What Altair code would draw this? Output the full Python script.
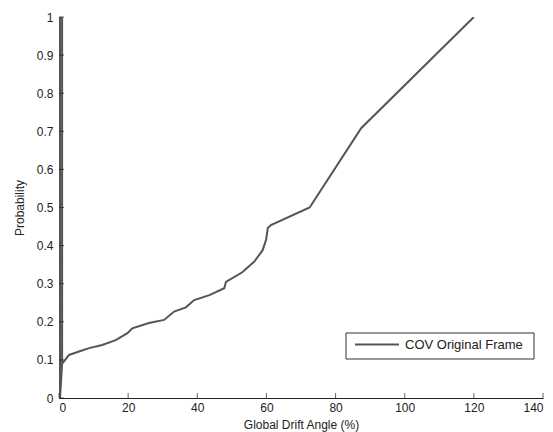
import altair as alt
import pandas as pd

# Data
drift = [0.9, 0.9, 0.3, 0.3, 0.9, 1.5, 2.9, 5.8, 8.7, 12.5, 16.4, 19.8, 21.2, 26.0,
         30.4, 33.3, 36.7, 39.1, 43.5, 47.8, 48.3, 53.0, 56.5, 58.9, 59.9, 60.4,
         61.3, 72.5, 87.4, 120.0]
prob = [0.09, 1.0, 1.0, 0.0, 0.09, 0.097, 0.113, 0.122, 0.131, 0.139, 0.152, 0.17,
        0.183, 0.197, 0.205, 0.227, 0.238, 0.257, 0.27, 0.288, 0.305, 0.33, 0.358,
        0.388, 0.415, 0.446, 0.454, 0.50, 0.708, 1.0]
series_name = "COV Original Frame"
x_ticks = [0, 20, 40, 60, 80, 100, 120, 140]
y_ticks = [0, 0.1, 0.2, 0.3, 0.4, 0.5, 0.6, 0.7, 0.8, 0.9, 1.0]

W, H = 484, 381
FONT = "Liberation Sans"
LINE_COLOR = "#555555"
TEXT_COLOR = "#222222"

df = pd.DataFrame({"drift": drift, "prob": prob, "i": list(range(len(drift)))})
xt = pd.DataFrame({"drift": x_ticks})
yt = pd.DataFrame({"prob": y_ticks})
leg = pd.DataFrame({"series": [series_name]})

xscale = alt.Scale(domain=[0, 140], nice=False, zero=False)
yscale = alt.Scale(domain=[0, 1], nice=False, zero=False)

x_axis = alt.Axis(values=x_ticks, title="Global Drift Angle (%)",
                  labelPadding=4, titlePadding=6, format="d",
                  labelOverlap=False, titleFontWeight="normal", grid=False)
y_axis = alt.Axis(values=y_ticks, title="Probability",
                  labelPadding=6, titlePadding=10, format=".1~f",
                  labelOverlap=False, titleFontWeight="normal", grid=False)

line = alt.Chart(df).mark_line(strokeWidth=2, clip=True, color=LINE_COLOR).encode(
    x=alt.X("drift:Q", scale=xscale, axis=x_axis),
    y=alt.Y("prob:Q", scale=yscale, axis=y_axis),
    order="i:Q",
)

xtick_layer = alt.Chart(xt).mark_tick(orient="vertical", size=5, thickness=1,
                                      color=TEXT_COLOR).encode(
    x=alt.X("drift:Q", scale=xscale, axis=x_axis),
    y=alt.value(H - 2.5),
)
ytick_layer = alt.Chart(yt).mark_tick(orient="horizontal", size=5, thickness=1,
                                      color=TEXT_COLOR).encode(
    y=alt.Y("prob:Q", scale=yscale, axis=y_axis),
    x=alt.value(2.5),
)

# Legend box (drawn as decoration in pixel space)
legend_box = alt.Chart(leg).mark_rect(fill="white", stroke="#333333",
                                      strokeWidth=1).encode(
    x=alt.value(287), x2=alt.value(475), y=alt.value(316), y2=alt.value(342),
)
legend_line = alt.Chart(leg).mark_rule(color=LINE_COLOR, strokeWidth=2).encode(
    x=alt.value(296), x2=alt.value(340), y=alt.value(327.5),
)
legend_text = alt.Chart(leg).mark_text(align="left", baseline="middle", font=FONT,
                                       fontSize=13, color=TEXT_COLOR).encode(
    x=alt.value(346), y=alt.value(328), text="series:N",
)

chart = alt.layer(line, xtick_layer, ytick_layer, legend_box, legend_line,
                  legend_text).properties(
    width=W, height=H,
    background="white",
    autosize=alt.AutoSizeParams(type="none"),
    padding={"left": 59, "top": 17, "right": 10, "bottom": 34},
).configure_view(stroke=None).configure_axis(
    grid=False, ticks=False, domainColor=TEXT_COLOR, domainWidth=1,
    labelFont=FONT, labelFontSize=12, labelColor=TEXT_COLOR,
    titleFont=FONT, titleFontSize=12, titleFontWeight="normal", titleColor=TEXT_COLOR,
)

chart.save("out.html", embed_options={"renderer": "svg", "actions": False})
